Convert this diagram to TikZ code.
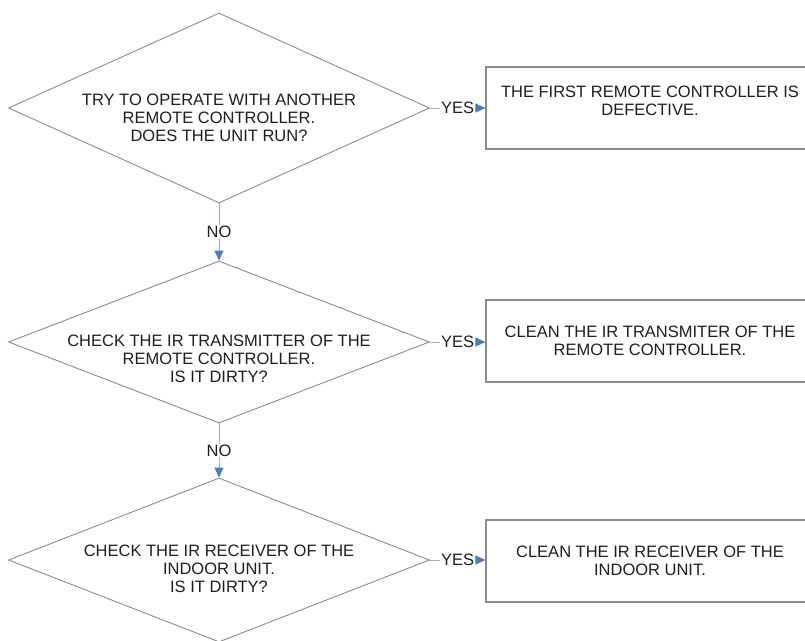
\documentclass[tikz,border=0pt]{standalone}
\usepackage{fontspec}
\setmainfont{Liberation Sans}
\usetikzlibrary{shapes.geometric,arrows.meta}
\definecolor{edgegray}{HTML}{8C8C8C}
\definecolor{wireblue}{HTML}{95B3D7}
\definecolor{tipblue}{HTML}{4A7EBB}
\definecolor{ink}{HTML}{1E1E1E}
\begin{document}
\begin{tikzpicture}[x=1pt,y=-1pt,
  every node/.style={font=\fontsize{16.5}{18}\selectfont, text=ink, align=center},
  ques/.style={diamond, draw=edgegray, line width=0.9pt, minimum width=421pt, inner sep=0pt},
  ans/.style={rectangle, draw=edgegray, line width=1.1pt, minimum width=328pt, minimum height=82pt},
  wire/.style={draw=wireblue, line width=0.9pt, -{Triangle[length=10pt,width=9pt,color=tipblue]}},
  tag/.style={fill=white, inner sep=1pt}]
\useasboundingbox (0,0) rectangle (805,640);
\clip (0,0) rectangle (805,640);
\node[ques, minimum height=190pt] (q1) at (219,108) {};
\node (q1t) at (219,118) {TRY TO OPERATE WITH ANOTHER\\REMOTE CONTROLLER.\\DOES THE UNIT RUN?};
\node[ques, minimum height=162pt] (q2) at (219,342) {};
\node (q2t) at (219,359) {CHECK THE IR TRANSMITTER OF THE\\REMOTE CONTROLLER.\\IS IT DIRTY?};
\node[ques, minimum height=164pt] (q3) at (219,560) {};
\node (q3t) at (219,569) {CHECK THE IR RECEIVER OF THE\\INDOOR UNIT.\\IS IT DIRTY?};
\node[ans] (a1) at (650,108) {THE FIRST REMOTE CONTROLLER IS\\DEFECTIVE.\\[-4pt]\mbox{}};
\node[ans] (a2) at (650,341) {CLEAN THE IR TRANSMITER OF THE\\REMOTE CONTROLLER.};
\node[ans] (a3) at (650,561) {CLEAN THE IR RECEIVER OF THE\\INDOOR UNIT.};
\draw[wire] (q1.east) -- node[tag] (y1) {YES} (a1.west);
\draw[wire] (q2.east) -- node[tag] (y2) {YES} (q2.east -| a2.west);
\draw[wire] (q3.east) -- node[tag] (y3) {YES} (q3.east -| a3.west);
\draw[wire] (q1.south) -- node[tag] (n1) {NO} (q2.north);
\draw[wire] (q2.south) -- node[tag] (n2) {NO} (q3.north);
\end{tikzpicture}
\end{document}
